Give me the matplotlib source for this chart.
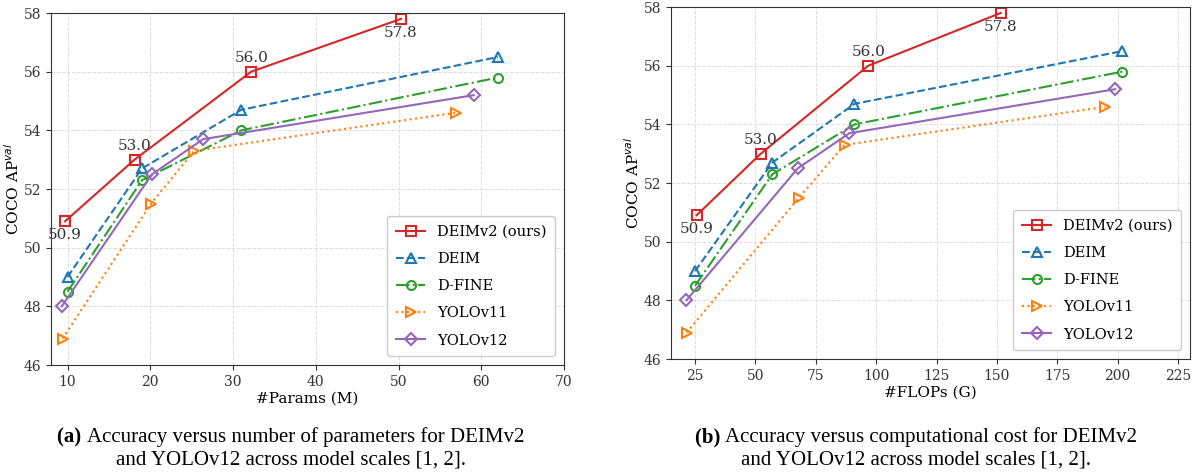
import matplotlib
matplotlib.use("Agg")
import matplotlib.pyplot as plt

# model scales S, M, L, X
params_deimv2 = [9.7, 18.1, 32.2, 50.3]
params_deim = [10, 19, 31, 62]
params_dfine = [10, 19, 31, 62]
params_yolo11 = [9.4, 20.1, 25.3, 56.9]
params_yolo12 = [9.3, 20.2, 26.4, 59.1]

flops_deimv2 = [25.6, 52.2, 96.7, 151.6]
flops_deim = [25, 57, 91, 202]
flops_dfine = [25, 57, 91, 202]
flops_yolo11 = [21.5, 68.0, 86.9, 194.9]
flops_yolo12 = [21.4, 67.5, 88.9, 199.0]

ap_deimv2 = [50.9, 53.0, 56.0, 57.8]
ap_deim = [49.0, 52.7, 54.7, 56.5]
ap_dfine = [48.5, 52.3, 54.0, 55.8]
ap_yolo11 = [46.9, 51.5, 53.3, 54.6]
ap_yolo12 = [48.0, 52.5, 53.7, 55.2]

labels = ["DEIMv2 (ours)", "DEIM", "D-FINE", "YOLOv11", "YOLOv12"]
label_above = [False, True, True, False]

plt.rcParams["font.family"] = "DejaVu Serif"
plt.rcParams["mathtext.fontset"] = "dejavusans"

styles = [
    dict(color="#d62728", ls="-", marker="s"),
    dict(color="#1f77b4", ls="--", marker="^"),
    dict(color="#2ca02c", ls="-.", marker="o"),
    dict(color="#ff7f0e", ls=":", marker=">"),
    dict(color="#9467bd", ls="-", marker="D"),
]


def draw(ax, xs, xlabel, xlim, xticks):
    ys = [ap_deimv2, ap_deim, ap_dfine, ap_yolo11, ap_yolo12]
    for x, y, lab, st in zip(xs, ys, labels, styles):
        ax.plot(x, y, label=lab, lw=1.5, ms=6.5, mfc="none", mew=1.5, **st)
    for x, y, up in zip(xs[0], ap_deimv2, label_above):
        ax.annotate("{:.1f}".format(y), (x, y), xytext=(0, 10 if up else -10),
                    textcoords="offset points", ha="center", va="center",
                    fontsize=11, color="#333333")
    ax.set_xlim(*xlim)
    ax.set_xticks(xticks)
    ax.set_ylim(46, 58)
    ax.set_yticks(range(46, 59, 2))
    ax.grid(True, ls="--", lw=0.7, color="#dddddd")
    ax.set_xlabel(xlabel, fontsize=11, labelpad=2)
    ax.set_ylabel("COCO AP$^{val}$", fontsize=11, labelpad=1)
    ax.tick_params(labelsize=10, colors="#333333")
    for s in ax.spines.values():
        s.set_color("#333333")
    leg = ax.legend(loc="lower right", fontsize=10.5, labelspacing=0.9,
                    handlelength=2.0, borderpad=0.6, framealpha=1,
                    borderaxespad=0.6)
    leg.get_frame().set_edgecolor("#cccccc")


fig = plt.figure(figsize=(11.96, 4.73), dpi=100)
ax1 = fig.add_axes([0.0426, 0.2283, 0.429, 0.7442])
ax2 = fig.add_axes([0.561, 0.241, 0.434, 0.744])

draw(ax1, [params_deimv2, params_deim, params_dfine, params_yolo11, params_yolo12],
     "#Params (M)", (8, 70), range(10, 71, 10))
draw(ax2, [flops_deimv2, flops_deim, flops_dfine, flops_yolo11, flops_yolo12],
     "#FLOPs (G)", (15, 230), range(25, 226, 25))

# captions: bold tag followed by regular text, centred as one line
renderer = fig.canvas.get_renderer()
cap = dict(va="center", fontsize=15, family="Liberation Serif")
captions = [
    (0.243, "(a)", "Accuracy versus number of parameters for DEIMv2"),
    (0.766, "(b)", "Accuracy versus computational cost for DEIMv2"),
]
y1 = 1 - 437 / 473
y2 = 1 - 460 / 473
for xc, tag, rest in captions:
    t1 = fig.text(0, y1, tag + " ", weight="bold", ha="left", **cap)
    t2 = fig.text(0, y1, rest, ha="left", **cap)
    w1 = t1.get_window_extent(renderer).width / fig.bbox.width
    w2 = t2.get_window_extent(renderer).width / fig.bbox.width
    x0 = xc - (w1 + w2) / 2
    t1.set_x(x0)
    t2.set_x(x0 + w1)
    fig.text(xc, y2, "and YOLOv12 across model scales [1, 2].", ha="center", **cap)

fig.savefig("out.png", dpi=100)
